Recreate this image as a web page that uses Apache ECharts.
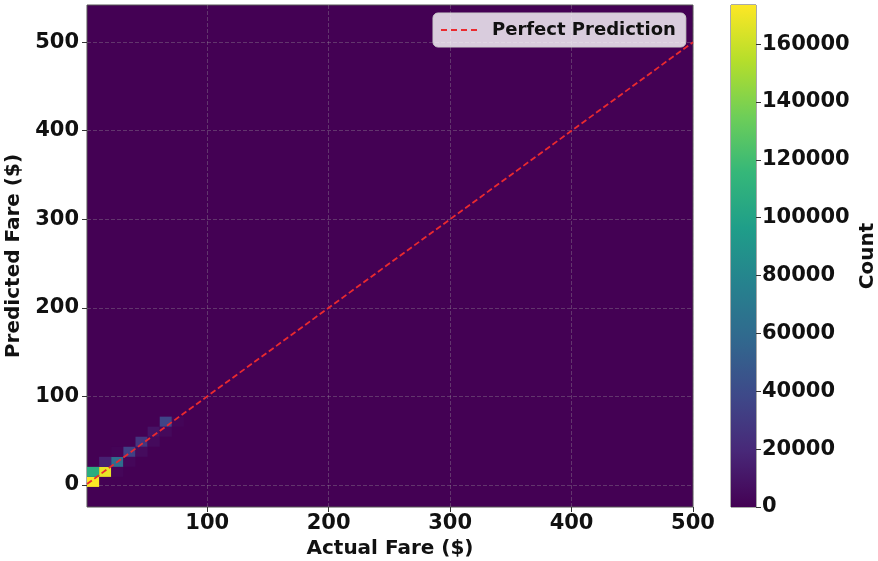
<!DOCTYPE html>
<html>
<head>
<meta charset="utf-8">
<script src="https://cdn.jsdelivr.net/npm/echarts@6/dist/echarts.min.js"></script>
<style>
  html, body { margin: 0; padding: 0; background: #fff; }
  #chart { width: 878px; height: 561px; }
</style>
</head>
<body>
<div id="chart"></div>
<script>
// hist2d bin layout (fare units)
const xEdgeStart = 1, xBinWidth = 9.98
const yEdgeStart = -25, yBinWidth = 11.34

// non-empty cells: bin index along actual / predicted, and counts
const cellXBin = [0, 0, 1, 1, 2, 2, 2, 3, 3, 4, 4, 5, 5, 6, 6, 7]
const cellYBin = [2, 3, 3, 4, 3, 4, 5, 4, 5, 5, 6, 6, 7, 7, 8, 8]
const cellCount = [173000, 108000, 168000, 16000, 2500, 62000, 1500, 3000, 34000, 5000, 27000, 4500, 9000, 4000, 36000, 2000]

const perfectLine = [[1, 1], [500, 500]]
const axisTicks = [100, 200, 300, 400, 500]
const predTicks = [0, 100, 200, 300, 400, 500]
const countTicks = [0, 20000, 40000, 60000, 80000, 100000, 120000, 140000, 160000]
const countMax = 173500

const viridis = ['#440154', '#482878', '#3e4989', '#31688e', '#26828e',
    '#1f9e89', '#35b779', '#6ece58', '#b5de2b', '#fde725']

const FONT = 'DejaVu Sans'
const RED = '#ea2a2f'

// build cell rectangles [x0, x1, y0, y1, count]
var cells = cellCount.map(function (c, i) {
    var x0 = xEdgeStart + cellXBin[i] * xBinWidth
    var y0 = yEdgeStart + cellYBin[i] * yBinWidth
    return [x0, x0 + xBinWidth, y0, y0 + yBinWidth, c]
})

var myChart = echarts.init(document.getElementById('chart'))

var tickLabel = { fontFamily: FONT, fontWeight: 'bold', fontSize: 21, color: '#111' }
var nameStyle = { fontFamily: FONT, fontWeight: 'bold', fontSize: 20, color: '#111' }
var gridLine = { show: true, lineStyle: { color: 'rgba(160,160,160,0.33)', type: [4, 2], width: 1 } }

var option = {
    animation: false,
    grid: [
        { left: 87, right: 185, top: 5, bottom: 54, show: true, outerBoundsMode: 'none',
          backgroundColor: viridis[0], borderColor: '#555', borderWidth: 1 },
        { left: 731, width: 25, top: 5, bottom: 54, show: true, outerBoundsMode: 'none',
          backgroundColor: 'transparent', borderColor: '#555', borderWidth: 1 }
    ],
    xAxis: [
        {
            type: 'value', gridIndex: 0, min: 1, max: 500,
            name: 'Actual Fare ($)', nameLocation: 'middle', nameGap: 27,
            nameTextStyle: nameStyle,
            axisLine: { show: false, onZero: false },
            axisTick: { show: true, length: 5, customValues: axisTicks, lineStyle: { color: '#333' } },
            axisLabel: Object.assign({ margin: 6, customValues: axisTicks }, tickLabel),
            splitLine: gridLine
        },
        { type: 'value', gridIndex: 1, min: 0, max: 1, show: false }
    ],
    yAxis: [
        {
            type: 'value', gridIndex: 0, min: -25, max: 542,
            name: 'Predicted Fare ($)', nameLocation: 'middle', nameGap: 51,
            nameTextStyle: nameStyle,
            axisLine: { show: false, onZero: false },
            axisTick: { show: true, length: 5, customValues: predTicks, lineStyle: { color: '#333' } },
            axisLabel: Object.assign({ margin: 8, customValues: predTicks }, tickLabel),
            splitLine: gridLine
        },
        {
            type: 'value', gridIndex: 1, min: 0, max: countMax, position: 'right',
            name: 'Count', nameLocation: 'middle', nameGap: 102,
            nameTextStyle: nameStyle,
            axisLine: { show: false, onZero: false },
            axisTick: { show: true, length: 5, customValues: countTicks, lineStyle: { color: '#333' } },
            axisLabel: Object.assign({ margin: 6, customValues: countTicks,
                formatter: function (v) { return String(v) } }, tickLabel),
            splitLine: { show: false }
        }
    ],
    visualMap: {
        show: false, type: 'continuous', seriesIndex: 0, dimension: 4,
        min: 0, max: countMax, inRange: { color: viridis }
    },
    legend: {
        data: ['Perfect Prediction'],
        left: 433, top: 13,
        backgroundColor: 'rgba(255,255,255,0.8)', borderColor: '#ccc', borderWidth: 1, borderRadius: 5,
        padding: [8, 10, 8, 8],
        icon: 'path://M0,0h6v2h-6z M10,0h6v2h-6z M20,0h6v2h-6z M30,0h6v2h-6z',
        itemWidth: 36, itemHeight: 14,
        textStyle: { fontFamily: FONT, fontWeight: 'bold', fontSize: 18, color: '#111', padding: [0, 0, 0, 10] }
    },
    series: [
        {
            type: 'custom', xAxisIndex: 0, yAxisIndex: 0,
            encode: { x: [0, 1], y: [2, 3] },
            data: cells,
            renderItem: function (params, api) {
                var p0 = api.coord([api.value(0), api.value(2)])
                var p1 = api.coord([api.value(1), api.value(3)])
                return {
                    type: 'rect',
                    shape: { x: p0[0], y: p1[1], width: p1[0] - p0[0], height: p0[1] - p1[1] },
                    style: { fill: api.visual('color') }
                }
            }
        },
        {
            name: 'Perfect Prediction', type: 'line', xAxisIndex: 0, yAxisIndex: 0,
            data: perfectLine, symbol: 'none', z: 5,
            itemStyle: { color: RED },
            lineStyle: { color: RED, width: 1.8, type: [6, 3] }
        },
        {
            type: 'custom', xAxisIndex: 1, yAxisIndex: 1,
            data: [[0, 0, 1, countMax]],
            renderItem: function (params, api) {
                var p0 = api.coord([api.value(0), api.value(1)])
                var p1 = api.coord([api.value(2), api.value(3)])
                var stops = viridis.map(function (c, i) {
                    return { offset: i / (viridis.length - 1), color: c }
                })
                return {
                    type: 'rect',
                    shape: { x: p0[0], y: p1[1], width: p1[0] - p0[0], height: p0[1] - p1[1] },
                    style: { fill: new echarts.graphic.LinearGradient(0, 1, 0, 0, stops) }
                }
            }
        }
    ]
}

myChart.setOption(option)
</script>
</body>
</html>
